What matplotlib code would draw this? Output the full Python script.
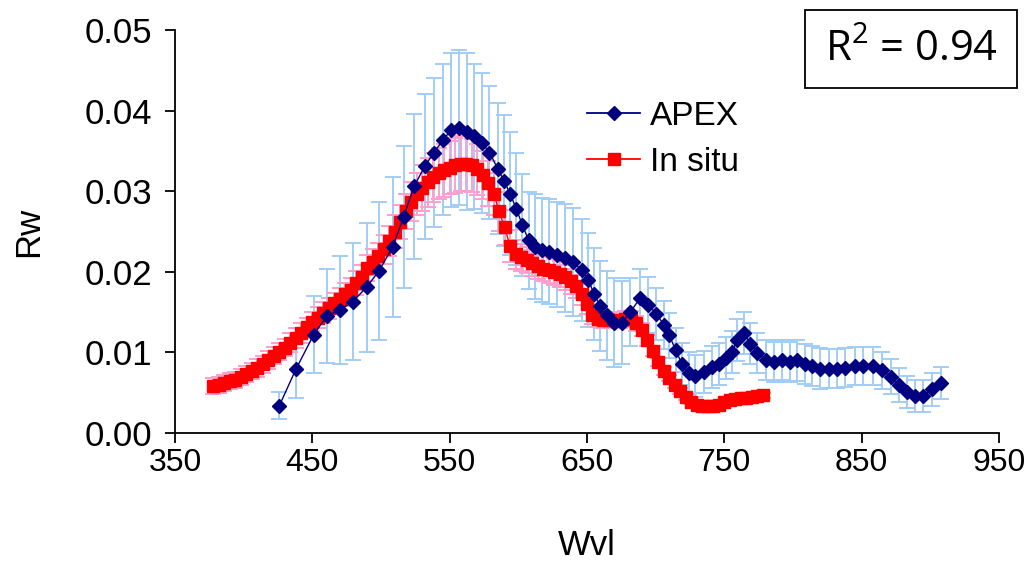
import matplotlib
matplotlib.use("Agg")
import matplotlib.pyplot as plt
from matplotlib.ticker import FormatStrFormatter
from matplotlib.lines import Line2D
from matplotlib.patches import Rectangle

# ---------------- data ----------------
apex_wvl = [426, 438, 451, 460.5, 470.5, 479.5, 489.5, 498.5, 508.5, 516.5,
            524, 532, 538.5, 545.5, 551, 557, 562.5, 568, 573.5, 579,
            585, 589.5, 594, 598.5, 603, 607.5, 612, 617, 622, 628,
            634, 640, 646, 651, 655, 659.5, 664.5, 670, 675.5, 681.5,
            688.5, 694.5, 700.5, 706, 710, 714.5, 719, 724, 729, 735,
            741, 746, 751, 755.5, 759.5, 764, 769, 774, 780, 786,
            792, 798, 803, 809, 814, 820, 826, 832, 838, 845,
            851, 858.5, 864.5, 871, 877, 883, 889, 895, 901, 908]
apex_rw = [0.0034, 0.0079, 0.0122, 0.0145, 0.0153, 0.0163, 0.0181, 0.0201, 0.0231, 0.0268,
           0.0306, 0.0331, 0.0348, 0.0364, 0.0376, 0.0379, 0.0374, 0.0368, 0.0360, 0.0348,
           0.0328, 0.0313, 0.0297, 0.0278, 0.0258, 0.0239, 0.0231, 0.0227, 0.0225, 0.0221,
           0.0217, 0.0212, 0.0202, 0.0190, 0.0173, 0.0158, 0.0146, 0.0137, 0.0137, 0.0150,
           0.0167, 0.0159, 0.0148, 0.0134, 0.0121, 0.0103, 0.0086, 0.0075, 0.0071, 0.0076,
           0.0082, 0.0086, 0.0093, 0.0101, 0.0115, 0.0124, 0.0111, 0.0099, 0.0091, 0.0088,
           0.0091, 0.0088, 0.0090, 0.0086, 0.0083, 0.0080, 0.0080, 0.0080, 0.0081, 0.0083,
           0.0083, 0.0083, 0.0078, 0.0070, 0.0060, 0.0051, 0.0046, 0.0046, 0.0054, 0.0062]
apex_err = [0.0017, 0.0036, 0.0048, 0.0058, 0.0067, 0.0073, 0.0080, 0.0085, 0.0087, 0.0088,
            0.0090, 0.0090, 0.0092, 0.0094, 0.0095, 0.0096, 0.0097, 0.0090, 0.0087, 0.0082,
            0.0081, 0.0081, 0.0076, 0.0069, 0.0063, 0.0060, 0.0065, 0.0065, 0.0065, 0.0065,
            0.0067, 0.0067, 0.0063, 0.0058, 0.0057, 0.0056, 0.0055, 0.0055, 0.0052, 0.0042,
            0.0036, 0.0035, 0.0032, 0.0030, 0.0028, 0.0027, 0.0026, 0.0026, 0.0026, 0.0026,
            0.0026, 0.0026, 0.0026, 0.0026, 0.0026, 0.0026, 0.0025, 0.0025, 0.0025, 0.0025,
            0.0025, 0.0025, 0.0025, 0.0025, 0.0025, 0.0025, 0.0024, 0.0024, 0.0024, 0.0024,
            0.0024, 0.0024, 0.0023, 0.0022, 0.0021, 0.0020, 0.0020, 0.0020, 0.0020, 0.0020]

insitu_wvl = [378, 382, 386, 390, 394, 398, 402, 406, 410, 414,
              418, 422, 426, 430, 434, 438, 442, 446, 450, 454,
              458, 462, 466, 470, 474, 478, 482, 486, 490, 494,
              498, 502, 506, 510, 514, 518, 522, 526, 530, 534,
              538, 542, 546, 550, 554, 558, 562, 566, 570, 574,
              578, 582, 586, 590, 594, 598, 602, 606, 610, 614,
              618, 622, 626, 630, 634, 638, 642, 646, 650, 654,
              658, 662, 666, 670, 674, 678, 682, 686, 690, 694,
              698, 702, 706, 710, 714, 718, 722, 726, 730, 734,
              738, 742, 746, 750, 754, 758, 762, 766, 770, 774, 778]
insitu_rw = [0.0058, 0.0060, 0.0062, 0.0064, 0.0066, 0.0069, 0.0073, 0.0077, 0.0081, 0.0085,
             0.0091, 0.0096, 0.0101, 0.0106, 0.0112, 0.0118, 0.0124, 0.0131, 0.0138, 0.0143,
             0.0149, 0.0155, 0.0161, 0.0166, 0.0172, 0.0178, 0.0186, 0.0193, 0.0205, 0.0212,
             0.0219, 0.0228, 0.0238, 0.0250, 0.0262, 0.0275, 0.0287, 0.0297, 0.0304, 0.0311,
             0.0317, 0.0322, 0.0326, 0.0329, 0.0332, 0.0334, 0.0334, 0.0332, 0.0327, 0.0320,
             0.0310, 0.0297, 0.0275, 0.0255, 0.0232, 0.0222, 0.0218, 0.0215, 0.0211, 0.0207,
             0.0204, 0.0202, 0.0200, 0.0197, 0.0193, 0.0188, 0.0182, 0.0172, 0.0160, 0.0146,
             0.0141, 0.0140, 0.0140, 0.0140, 0.0140, 0.0141, 0.0141, 0.0136, 0.0128, 0.0115,
             0.0102, 0.0088, 0.0077, 0.0068, 0.0060, 0.0052, 0.0045, 0.0039, 0.0035, 0.0033,
             0.0033, 0.0033, 0.0035, 0.0038, 0.0041, 0.0042, 0.0043, 0.0044, 0.0045, 0.0046, 0.0047]
insitu_err = [0.0010, 0.0010, 0.0010, 0.0010, 0.0010, 0.0010, 0.0010, 0.0010, 0.0011, 0.0011,
              0.0011, 0.0011, 0.0011, 0.0011, 0.0012, 0.0012, 0.0012, 0.0012, 0.0012, 0.0013,
              0.0013, 0.0013, 0.0013, 0.0014, 0.0014, 0.0014, 0.0015, 0.0015, 0.0016, 0.0016,
              0.0017, 0.0018, 0.0019, 0.0020, 0.0021, 0.0022, 0.0024, 0.0026, 0.0028, 0.0030,
              0.0031, 0.0032, 0.0033, 0.0033, 0.0034, 0.0034, 0.0034, 0.0033, 0.0032, 0.0030,
              0.0028, 0.0026, 0.0024, 0.0022, 0.0020, 0.0018, 0.0017, 0.0016, 0.0016, 0.0016,
              0.0016, 0.0016, 0.0016, 0.0016, 0.0015, 0.0015, 0.0014, 0.0013, 0.0012, 0.0011,
              0.0010, 0.0010, 0.0010, 0.0010, 0.0010, 0.0010, 0.0010, 0.0009, 0.0008, 0.0007,
              0.0006, 0.0005, 0.0005, 0.0004, 0.0004, 0.0004, 0.0004, 0.0003, 0.0003, 0.0003,
              0.0003, 0.0003, 0.0003, 0.0003, 0.0003, 0.0003, 0.0003, 0.0003, 0.0003, 0.0003, 0.0003]

x_ticks = [350, 450, 550, 650, 750, 850, 950]
y_ticks = [0.00, 0.01, 0.02, 0.03, 0.04, 0.05]
series_labels = ["APEX", "In situ"]
r2_text = r"R$^2$ = 0.94"

# ---------------- plot ----------------
plt.rcParams['font.family'] = ['Liberation Sans', 'DejaVu Sans']
plt.rcParams['mathtext.fontset'] = 'custom'
plt.rcParams['mathtext.rm'] = 'Open Sans'

W, H = 1027, 564
fig = plt.figure(figsize=(W / 100, H / 100), dpi=100)
ax = fig.add_axes([175 / W, 1 - 433 / H, (999 - 175) / W, (433 - 30) / H])

# error bars
ax.errorbar(apex_wvl, apex_rw, yerr=apex_err, fmt='none', ecolor='#a3cdf7',
            elinewidth=1.4, capsize=5.5, capthick=1.4, zorder=1)
ax.errorbar(insitu_wvl, insitu_rw, yerr=insitu_err, fmt='none', ecolor='#ff9fcc',
            elinewidth=1.4, capsize=5.5, capthick=1.4, zorder=2)

# series
ax.plot(insitu_wvl, insitu_rw, color='#ff0000', lw=1.0, marker='s', ms=8.5,
        mec='#ff0000', mfc='#ff0000', zorder=3)
ax.plot(apex_wvl, apex_rw, color='#000080', lw=1.0, marker='D', ms=7,
        mec='#000080', mfc='#000080', zorder=4)

# legend
h1 = Line2D([], [], color='#000080', lw=1.3, marker='D', ms=7.5)
h2 = Line2D([], [], color='#ff0000', lw=1.3, marker='s', ms=8)
fig.legend([h1, h2], series_labels, loc='upper left',
           bbox_to_anchor=(587 / W, 1 - 101 / H), frameon=False,
           fontsize=24, handlelength=1.6, handletextpad=0.3,
           labelspacing=0.45, borderaxespad=0, borderpad=0)

ax.set_xlim(350, 950)
ax.set_ylim(0, 0.05)
ax.set_xticks(x_ticks)
ax.set_yticks(y_ticks)
ax.yaxis.set_major_formatter(FormatStrFormatter('%.2f'))
for s in ['top', 'right']:
    ax.spines[s].set_visible(False)
for s in ['left', 'bottom']:
    ax.spines[s].set_linewidth(1.3)
ax.tick_params(axis='both', direction='out', length=7.5, width=1.3)
ax.tick_params(axis='x', labelsize=23, pad=3)
ax.tick_params(axis='y', labelsize=25, pad=9)

ax.set_xlabel('Wvl', fontsize=25, labelpad=37)
ax.set_ylabel('Rw', fontsize=25, labelpad=28)

# R^2 box
fig.patches.append(Rectangle((805 / W, 1 - 88 / H), 212 / W, 78 / H,
                             transform=fig.transFigure, fill=False,
                             ec='black', lw=1.3))
fig.text(911 / W, 1 - 50 / H, r2_text, fontsize=30, family='Open Sans',
         ha='center', va='center')

fig.savefig('out.png', dpi=100)
